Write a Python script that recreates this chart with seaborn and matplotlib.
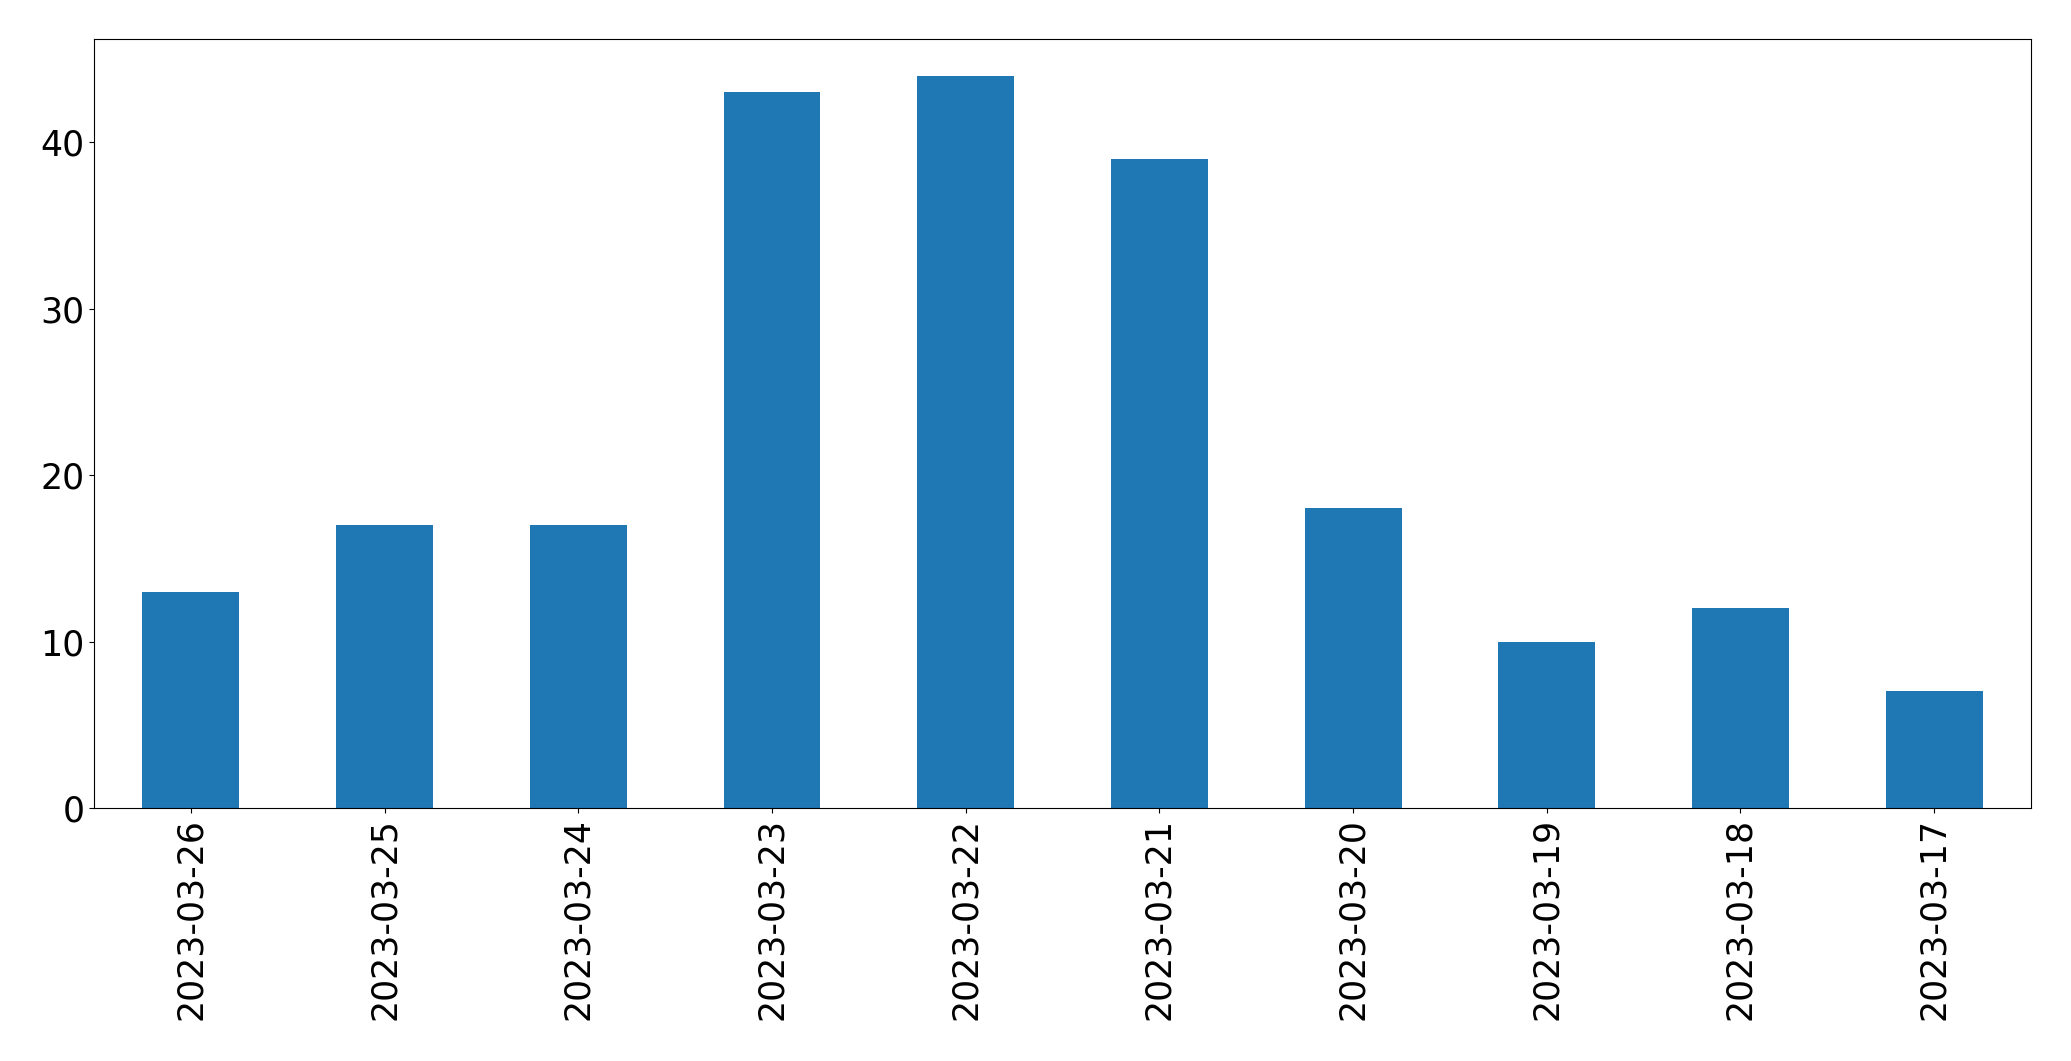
import matplotlib
matplotlib.use('Agg')
import matplotlib.pyplot as plt
import seaborn as sns

dates = ['2023-03-26', '2023-03-25', '2023-03-24', '2023-03-23', '2023-03-22',
         '2023-03-21', '2023-03-20', '2023-03-19', '2023-03-18', '2023-03-17']
counts = [13, 17, 17, 43, 44, 39, 18, 10, 12, 7]

fig, ax = plt.subplots(figsize=(20.71, 10.61), dpi=100)
fig.subplots_adjust(left=0.0454, right=0.9807, top=0.9632, bottom=0.2385)

sns.barplot(x=dates, y=counts, order=dates, color='#1f77b4', saturation=1,
            width=0.5, linewidth=0, ax=ax)

ax.set_xlabel('')
ax.set_ylabel('')
ax.tick_params(axis='both', labelsize=25)
ax.tick_params(axis='x', labelrotation=90)
for sp in ax.spines.values():
    sp.set_color('black')

fig.savefig('out.png', dpi=100)
